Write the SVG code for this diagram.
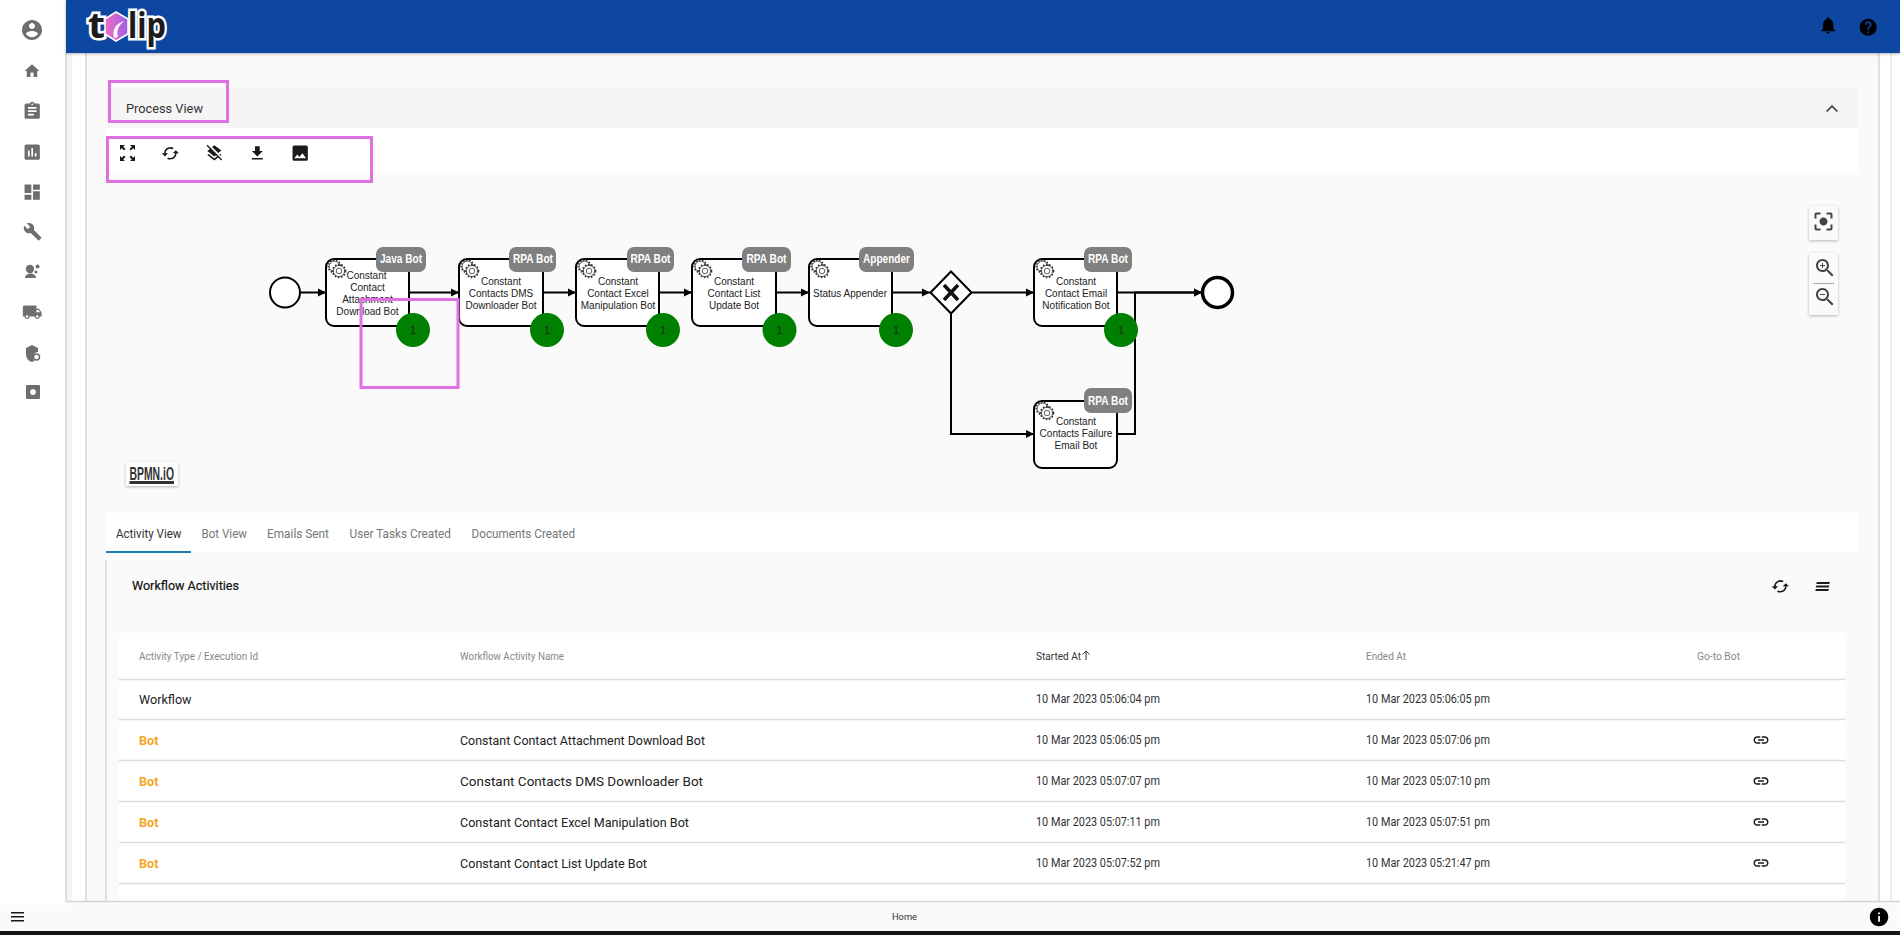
<svg xmlns="http://www.w3.org/2000/svg" xmlns:xlink="http://www.w3.org/1999/xlink" width="1900" height="935" viewBox="0 0 1900 935">
<style>
text{font-family:Roboto,"Liberation Sans",sans-serif}
.pink{fill:none;stroke:#e070e0;stroke-width:3}
.conn{fill:none;stroke:#000;stroke-width:2;marker-end:url(#arrow)}
.line{fill:none;stroke:#000;stroke-width:2}
.task{fill:#fff;stroke:#000;stroke-width:2}
.tl{font-family:"Liberation Sans",Arial,sans-serif;font-size:10px;fill:#222;text-anchor:middle}
.badge{fill:#808080}
.bt{font-family:"Liberation Sans",Arial,sans-serif;font-size:12px;font-weight:700;fill:#fff}
.count{fill:#008000}
.ct{font-family:"Liberation Sans",Arial,sans-serif;font-size:10px;fill:#222;text-anchor:middle}
.side{fill:#6e6e6e}
.ico{fill:#1a1a1a}
.tab{font-size:13px;fill:#777}
.th{font-size:10px;fill:#888}
.td{font-size:12px;fill:#333}
.nm{font-size:13px;fill:#222}
.bot{font-size:13px;font-weight:700;fill:#f5a623}
.rule{stroke:#ddd;stroke-width:1.5}
.vl{stroke:#d4d4d4;stroke-width:1.5}
.btn{fill:#fafafa;filter:url(#sh)}
.zi{fill:#444}
</style>
<defs>
<marker id="arrow" markerUnits="userSpaceOnUse" markerWidth="10" markerHeight="10" refX="9" refY="5" orient="auto"><path d="M1 1L9 5L1 9Z" fill="#000"/></marker>
<filter id="sh" x="-30%" y="-30%" width="160%" height="160%"><feDropShadow dx="0" dy="1" stdDeviation="1.5" flood-color="#000" flood-opacity=".28"/></filter>
<linearGradient id="hex" x1="0" y1="0" x2="1" y2="0"><stop offset="0" stop-color="#f06cc0"/><stop offset="1" stop-color="#a060e8"/></linearGradient>
<g id="gear"><circle cx="-2.5" cy="-2.5" r="5.4" fill="#fff" stroke="#333" stroke-width=".8"/><circle cx="-2.5" cy="-2.5" r="6.2" fill="none" stroke="#333" stroke-width="1.6" stroke-dasharray="1.5 1.5"/><circle cx="2" cy="2" r="5.6" fill="#fff" stroke="#333" stroke-width=".8"/><circle cx="2" cy="2" r="6.5" fill="none" stroke="#333" stroke-width="1.6" stroke-dasharray="1.6 1.6"/><circle cx="2" cy="2" r="2.8" fill="#fff" stroke="#333" stroke-width=".8"/></g>
<path id="i-link" d="M3.9 12c0-1.71 1.39-3.1 3.1-3.1h4V7H7c-2.76 0-5 2.24-5 5s2.24 5 5 5h4v-1.9H7c-1.71 0-3.1-1.39-3.1-3.1zM8 13h8v-2H8v2zm9-6h-4v1.9h4c1.71 0 3.1 1.39 3.1 3.1s-1.39 3.1-3.1 3.1h-4V17h4c2.76 0 5-2.24 5-5s-2.24-5-5-5z"/>
<path id="i-cached" d="M19 8l-4 4h3c0 3.31-2.69 6-6 6-1.01 0-1.97-.25-2.8-.7l-1.46 1.46C8.97 19.54 10.43 20 12 20c4.42 0 8-3.58 8-8h3l-4-4zM6 12c0-3.31 2.69-6 6-6 1.01 0 1.97.25 2.8.7l1.46-1.46C15.03 4.46 13.57 4 12 4c-4.42 0-8 3.58-8 8H1l4 4 4-4H6z"/>
</defs>

<rect width="1900" height="935" fill="#fff"/>
<g id="page">
<rect x="66" y="53" width="6" height="850" fill="#f4f4f4"/>
<rect x="86" y="53" width="1793" height="850" fill="#fafafa"/>
<line class="vl" x1="66" y1="53" x2="66" y2="902"/>
<line class="vl" x1="86" y1="53" x2="86" y2="902"/>
<line class="vl" x1="106" y1="560" x2="106" y2="902"/>
<line class="vl" x1="1879" y1="53" x2="1879" y2="902"/>
<line class="vl" x1="1891" y1="53" x2="1891" y2="902" stroke-opacity=".5"/>
</g>

<g id="header">
<rect x="66" y="0" width="1834" height="53" fill="#0d47a1" filter="url(#sh)"/>
<text x="88" y="38" font-size="35" font-weight="700" fill="#1c1c1c" stroke="#fff" stroke-width="5" paint-order="stroke" style="font-family:'Noto Sans',sans-serif" textLength="17" lengthAdjust="spacingAndGlyphs">t</text>
<path d="M116 12L128 19V34L116 41L105 34V19Z" fill="url(#hex)" stroke="#fff" stroke-width="1.5"/>
<path d="M114 38C112 30 115 24 124 21C118 26 116 31 118 37Z" fill="#fff"/>
<text x="128" y="38" font-size="35" font-weight="700" fill="#1c1c1c" stroke="#fff" stroke-width="5" paint-order="stroke" style="font-family:'Noto Sans',sans-serif" textLength="38" lengthAdjust="spacingAndGlyphs">lip</text>
<path transform="translate(1818 15) scale(.85)" fill="#000" d="M12 22c1.1 0 2-.9 2-2h-4c0 1.1.89 2 2 2zm6-6v-5c0-3.07-1.64-5.64-4.5-6.32V4c0-.83-.67-1.5-1.5-1.5s-1.5.67-1.5 1.5v.68C7.63 5.36 6 7.92 6 11v5l-2 2v1h16v-1l-2-2z"/>
<path transform="translate(1858 17) scale(.85)" fill="#000" d="M12 2C6.48 2 2 6.48 2 12s4.48 10 10 10 10-4.48 10-10S17.52 2 12 2zm1 17h-2v-2h2v2zm2.07-7.75l-.9.92C13.45 12.9 13 13.5 13 15h-2v-.5c0-1.1.45-2.1 1.17-2.83l1.24-1.26c.37-.36.59-.86.59-1.41 0-1.1-.9-2-2-2s-2 .9-2 2H8c0-2.21 1.79-4 4-4s4 1.79 4 4c0 .88-.36 1.68-.93 2.25z"/>
</g>

<g id="sidebar">
<path class="side" transform="translate(20 18)" d="M12 2C6.48 2 2 6.48 2 12s4.48 10 10 10 10-4.48 10-10S17.52 2 12 2zm0 3c1.66 0 3 1.34 3 3s-1.34 3-3 3-3-1.34-3-3 1.34-3 3-3zm0 14.2c-2.5 0-4.71-1.28-6-3.22.03-1.99 4-3.08 6-3.08 1.99 0 5.97 1.09 6 3.08-1.29 1.94-3.5 3.22-6 3.22z"/>
<path class="side" transform="translate(23 62) scale(.75)" d="M10 20v-6h4v6h5v-8h3L12 3 2 12h3v8z"/>
<path class="side" transform="translate(22 101) scale(.85)" d="M19 3h-4.18C14.4 1.84 13.3 1 12 1c-1.3 0-2.4.84-2.82 2H5c-1.1 0-2 .9-2 2v14c0 1.1.9 2 2 2h14c1.1 0 2-.9 2-2V5c0-1.1-.9-2-2-2zm-7 0c.55 0 1 .45 1 1s-.45 1-1 1-1-.45-1-1 .45-1 1-1zm2 14H7v-2h7v2zm3-4H7v-2h10v2zm0-4H7V7h10v2z"/>
<path class="side" transform="translate(22 142) scale(.85)" d="M19 3H5c-1.1 0-2 .9-2 2v14c0 1.1.9 2 2 2h14c1.1 0 2-.9 2-2V5c0-1.1-.9-2-2-2zM9 17H7v-7h2v7zm4 0h-2V7h2v10zm4 0h-2v-4h2v4z"/>
<path class="side" transform="translate(22 182) scale(.85)" d="M3 13h8V3H3v10zm0 8h8v-6H3v6zm10 0h8V11h-8v10zm0-18v6h8V3h-8z"/>
<path class="side" transform="translate(23 222) scale(.8)" d="M22.7 19l-9.1-9.1c.9-2.3.4-5-1.5-6.9-2-2-5-2.4-7.4-1.3L9 6 6 9 1.6 4.7C.4 7.1.9 10.1 2.9 12.1c1.9 1.9 4.6 2.4 6.9 1.5l9.1 9.1c.4.4 1 .4 1.4 0l2.3-2.3c.5-.4.5-1.1.1-1.4z"/>
<g class="side"><circle cx="30" cy="269" r="4.2"/><path d="M25 278c0-3 3-4.5 5.5-4.5s5.5 1.5 5.5 4.5H25z"/><circle cx="37.500" cy="266.500" r="2"/><circle cx="36" cy="272" r="1.500"/></g>
<path class="side" transform="translate(22 302) scale(.85)" d="M20 8h-3V4H3c-1.1 0-2 .9-2 2v11h2c0 1.66 1.34 3 3 3s3-1.34 3-3h6c0 1.66 1.34 3 3 3s3-1.34 3-3h2v-5l-3-4zM6 18.500c-.83 0-1.500-.67-1.500-1.500s.67-1.500 1.500-1.500 1.500.67 1.500 1.500-.67 1.500-1.500 1.500zm13.500-9l1.960 2.500H17V9.500h2.500zm-1.500 9c-.83 0-1.500-.67-1.500-1.500s.67-1.500 1.500-1.500 1.500.67 1.500 1.500-.67 1.500-1.500 1.500z"/>
<g class="side"><path d="M32 345l6 3v4c-2.500 0-5 2.500-5 5 0 1.500.5 3 1.500 3.800-.8.500-1.600.900-2.500 1.200-4-1-6-4-6-8v-6z"/><circle cx="36.500" cy="357" r="3" fill="#fff" stroke="#6e6e6e" stroke-width="1.500"/></g>
<path class="side" fill-rule="evenodd" d="M27 385h12a1 1 0 0 1 1 1v12a1 1 0 0 1-1 1H27a1 1 0 0 1-1-1v-12a1 1 0 0 1 1-1zM33 389a3 3 0 1 0 .01 0z"/>
</g>

<g id="panel">
<rect x="106" y="88" width="1752" height="40" fill="#f5f5f5"/>
<rect x="106" y="128" width="1752" height="45" fill="#fff"/>
<text x="126" y="113" font-size="13" fill="#333" textLength="77" lengthAdjust="spacingAndGlyphs">Process View</text>
<path fill="#333" transform="translate(1820 97)" d="M12 8l-6 6 1.100 1.100L12 10.200l4.900 4.900L18 14z"/>
<g id="toolbar">
<path class="ico" d="M120 145h5l-1.800 1.800 2.300 2.300-1.400 1.400-2.300-2.300L120 150zM135 145h-5l1.800 1.800-2.300 2.300 1.400 1.400 2.300-2.300L135 150zM120 161h5l-1.800-1.800 2.300-2.300-1.400-1.400-2.300 2.300L120 156zM135 161h-5l1.800-1.800-2.300-2.300 1.400-1.400 2.300 2.300L135 156z"/>
<use href="#i-cached" class="ico" transform="translate(161 144) scale(.78)"/>
<path class="ico" transform="translate(205 144) scale(.78)" d="M19.810 14.990l1.190-.92-1.430-1.430-1.190.92 1.430 1.430zm-.45-5.270L21 8.460 12 1.460 9.090 3.720l7.880 7.880 2.390-1.880zM3.270 1L2 2.270l4.220 4.220L3 9l1.630 1.270L12 16l2.100-1.630 1.430 1.430L12 18.540l-7.370-5.730L3 14.070l9 7 4.950-3.850L20.730 21 22 19.730 3.270 1z"/>
<path class="ico" transform="translate(248 144) scale(.78)" d="M19 9h-4V3H9v6H5l7 7 7-7zM5 18v2h14v-2H5z"/>
<path class="ico" transform="translate(290 143) scale(.85)" d="M21 19V5c0-1.100-.9-2-2-2H5c-1.100 0-2 .9-2 2v14c0 1.100.9 2 2 2h14c1.100 0 2-.9 2-2zM8.500 13.500l2.500 3.010L14.500 12l4.500 6H5l3.500-4.500z"/>
</g>
</g>

<g id="connectors">
<path class="conn" d="M300 292.500H326"/>
<path class="conn" d="M409 292.500H459"/>
<path class="conn" d="M543 292.500H576"/>
<path class="conn" d="M659 292.500H692"/>
<path class="conn" d="M776 292.500H809"/>
<path class="conn" d="M892 292.500H930"/>
<path class="conn" d="M971.500 292.500H1034"/>
<path class="conn" d="M951 313V434H1034"/>
<path class="conn" d="M1117 292.500H1202"/>
<path class="conn" d="M1117 434H1135V292.500H1202"/>
</g>

<g id="start"><circle cx="285" cy="292.500" r="15" fill="#fff" stroke="#000" stroke-width="2"/></g>

<g id="task1"><rect class="task" x="326" y="259" width="83" height="67" rx="8"/><use href="#gear" x="337" y="269"/>
<text class="tl" x="366.500" y="279">Constant</text><text class="tl" x="367.500" y="291">Contact</text><text class="tl" x="367.500" y="303">Attachment</text><text class="tl" x="367.500" y="315">Download Bot</text>
<rect class="badge" x="376" y="247" width="50" height="25" rx="7"/><text class="bt" x="380" y="263" textLength="42" lengthAdjust="spacingAndGlyphs">Java Bot</text>
<circle class="count" cx="413" cy="330" r="17"/><text class="ct" x="413" y="334">1</text></g>

<g id="task2"><rect class="task" x="459" y="259" width="84" height="67" rx="8"/><use href="#gear" x="470" y="269"/>
<text class="tl" x="501" y="285">Constant</text><text class="tl" x="501" y="297">Contacts DMS</text><text class="tl" x="501" y="309">Downloader Bot</text>
<rect class="badge" x="509" y="247" width="47" height="25" rx="7"/><text class="bt" x="513" y="263" textLength="40" lengthAdjust="spacingAndGlyphs">RPA Bot</text>
<circle class="count" cx="547" cy="330" r="17"/><text class="ct" x="547" y="334">1</text></g>

<g id="task3"><rect class="task" x="576" y="259" width="83" height="67" rx="8"/><use href="#gear" x="587" y="269"/>
<text class="tl" x="618" y="285">Constant</text><text class="tl" x="618" y="297">Contact Excel</text><text class="tl" x="618" y="309">Manipulation Bot</text>
<rect class="badge" x="627" y="247" width="47" height="25" rx="7"/><text class="bt" x="630.500" y="263" textLength="40" lengthAdjust="spacingAndGlyphs">RPA Bot</text>
<circle class="count" cx="663" cy="330" r="17"/><text class="ct" x="663" y="334">1</text></g>

<g id="task4"><rect class="task" x="692" y="259" width="84" height="67" rx="8"/><use href="#gear" x="703" y="269"/>
<text class="tl" x="734" y="285">Constant</text><text class="tl" x="734" y="297">Contact List</text><text class="tl" x="734" y="309">Update Bot</text>
<rect class="badge" x="742" y="247" width="49" height="25" rx="7"/><text class="bt" x="746.500" y="263" textLength="40" lengthAdjust="spacingAndGlyphs">RPA Bot</text>
<circle class="count" cx="779.500" cy="330" r="17"/><text class="ct" x="779.500" y="334">1</text></g>

<g id="task5"><rect class="task" x="809" y="259" width="83" height="67" rx="8"/><use href="#gear" x="820" y="269"/>
<text class="tl" x="850" y="297">Status Appender</text>
<rect class="badge" x="859" y="247" width="55" height="25" rx="7"/><text class="bt" x="863" y="263" textLength="47" lengthAdjust="spacingAndGlyphs">Appender</text>
<circle class="count" cx="896" cy="330" r="17"/><text class="ct" x="896" y="334">1</text></g>

<g id="gateway"><path d="M951 271.500L971.500 292.500L951 313.500L930.500 292.500Z" fill="#fff" stroke="#000" stroke-width="2"/><path d="M944 285L958 300M958 285L944 300" fill="none" stroke="#111" stroke-width="3.600"/></g>

<g id="task6"><rect class="task" x="1034" y="259" width="83" height="67" rx="8"/><use href="#gear" x="1045" y="269"/>
<text class="tl" x="1076" y="285">Constant</text><text class="tl" x="1076" y="297">Contact Email</text><text class="tl" x="1076" y="309">Notification Bot</text>
<rect class="badge" x="1084" y="247" width="48" height="25" rx="7"/><text class="bt" x="1088" y="263" textLength="40" lengthAdjust="spacingAndGlyphs">RPA Bot</text>
<circle class="count" cx="1121" cy="330" r="17"/><text class="ct" x="1121" y="334">1</text></g>

<g id="task7"><rect class="task" x="1034" y="401" width="83" height="67" rx="8"/><use href="#gear" x="1045" y="411"/>
<text class="tl" x="1076" y="425">Constant</text><text class="tl" x="1076" y="437">Contacts Failure</text><text class="tl" x="1076" y="449">Email Bot</text>
<rect class="badge" x="1084" y="388" width="48" height="25" rx="7"/><text class="bt" x="1088" y="405" textLength="40" lengthAdjust="spacingAndGlyphs">RPA Bot</text></g>

<g id="end"><circle cx="1217.500" cy="292.500" r="15" fill="#fff" stroke="#000" stroke-width="3.500"/></g>

<g id="highlights">
<rect class="pink" x="109.500" y="81.500" width="118" height="40"/>
<rect class="pink" x="107.500" y="137.500" width="264" height="44"/>
<rect class="pink" x="361" y="299.500" width="97" height="88"/>
</g>

<g id="canvas-controls">
<rect class="btn" x="1809" y="206" width="29" height="34" rx="1"/>
<path class="zi" transform="translate(1811.500 209.500)" d="M12 8c-2.210 0-4 1.790-4 4s1.790 4 4 4 4-1.790 4-4-1.790-4-4-4zm-7 7H3v4c0 1.100.9 2 2 2h4v-2H5v-4zM5 5h4V3H5c-1.100 0-2 .9-2 2v4h2V5zm14-2h-4v2h4v4h2V5c0-1.100-.9-2-2-2zm0 16h-4v2h4c1.100 0 2-.9 2-2v-4h-2v4z"/>
<rect class="btn" x="1809" y="253" width="29" height="62" rx="1"/>
<line x1="1813" y1="283.500" x2="1834" y2="283.500" stroke="#aaa"/>
<path class="zi" transform="translate(1813 256)" d="M15.500 14h-.79l-.28-.27C15.410 12.590 16 11.110 16 9.500 16 5.910 13.090 3 9.500 3S3 5.910 3 9.500 5.910 16 9.500 16c1.610 0 3.090-.59 4.230-1.570l.27.28v.79l5 4.990L20.490 19l-4.990-5zm-6 0C7.010 14 5 11.990 5 9.500S7.010 5 9.500 5 14 7.010 14 9.500 11.990 14 9.500 14zM12 10h-2v2H9v-2H7V9h2V7h1v2h2v1z"/>
<path class="zi" transform="translate(1813 285)" d="M15.500 14h-.79l-.28-.27C15.410 12.590 16 11.110 16 9.500 16 5.910 13.090 3 9.500 3S3 5.910 3 9.500 5.910 16 9.500 16c1.610 0 3.090-.59 4.230-1.570l.27.28v.79l5 4.990L20.490 19l-4.990-5zm-6 0C7.010 14 5 11.990 5 9.500S7.010 5 9.500 5 14 7.010 14 9.500 11.990 14 9.500 14zM7 9h5v1H7z"/>
<g id="bpmn-logo"><rect x="126" y="462" width="52" height="24" fill="#fff" filter="url(#sh)"/>
<text x="129.500" y="480" font-size="18" font-weight="700" fill="#333" style="font-family:'Liberation Sans',sans-serif" textLength="44.500" lengthAdjust="spacingAndGlyphs">BPMN.iO</text>
<rect x="129.500" y="481" width="44.500" height="3" fill="#333"/></g>
</g>

<g id="tabs">
<rect x="106" y="513" width="1752" height="39" fill="#fff"/>
<text class="tab" style="fill:#333" x="116" y="538" textLength="65.500" lengthAdjust="spacingAndGlyphs">Activity View</text>
<text class="tab" x="201.500" y="538" textLength="45.500" lengthAdjust="spacingAndGlyphs">Bot View</text>
<text class="tab" x="267" y="538" textLength="62" lengthAdjust="spacingAndGlyphs">Emails Sent</text>
<text class="tab" x="349.500" y="538" textLength="101.500" lengthAdjust="spacingAndGlyphs">User Tasks Created</text>
<text class="tab" x="471.500" y="538" textLength="103.500" lengthAdjust="spacingAndGlyphs">Documents Created</text>
<rect x="106" y="551" width="85" height="2" fill="#1a7fa8"/>
</g>

<g id="activities">
<text x="132" y="590" font-size="13" font-weight="400" fill="#111" stroke="#111" stroke-width=".2" textLength="107" lengthAdjust="spacingAndGlyphs">Workflow Activities</text>
<use href="#i-cached" class="ico" transform="translate(1771 577) scale(.78)"/>
<path d="M1817 582h13l-.8 2h-13zM1816.500 585.500h13l-.8 2h-13zM1816 589h13l-.8 2h-13z" class="ico"/>
<rect x="119" y="633" width="1726" height="268" fill="#fff"/>
<text class="th" x="139" y="660" textLength="119" lengthAdjust="spacingAndGlyphs">Activity Type / Execution Id</text>
<text class="th" x="460" y="660" textLength="104" lengthAdjust="spacingAndGlyphs">Workflow Activity Name</text>
<text class="th" style="fill:#333" x="1036" y="660" textLength="45" lengthAdjust="spacingAndGlyphs">Started At</text>
<path d="M1086 660V651M1082.500 654.500L1086 651L1089.500 654.500" fill="none" stroke="#333" stroke-width="1"/>
<text class="th" x="1366" y="660" textLength="40" lengthAdjust="spacingAndGlyphs">Ended At</text>
<text class="th" x="1697" y="660" textLength="43" lengthAdjust="spacingAndGlyphs">Go-to Bot</text>
<line class="rule" x1="119" y1="679.500" x2="1845" y2="679.500"/>
<line class="rule" x1="119" y1="719.500" x2="1845" y2="719.500"/>
<line class="rule" x1="119" y1="760.500" x2="1845" y2="760.500"/>
<line class="rule" x1="119" y1="801.500" x2="1845" y2="801.500"/>
<line class="rule" x1="119" y1="842.500" x2="1845" y2="842.500"/>
<line class="rule" x1="119" y1="883.500" x2="1845" y2="883.500"/>

<text class="nm" x="139" y="704" textLength="52.500" lengthAdjust="spacingAndGlyphs">Workflow</text>
<text class="td" x="1036" y="703" textLength="124" lengthAdjust="spacingAndGlyphs">10 Mar 2023 05:06:04 pm</text>
<text class="td" x="1366" y="703" textLength="124" lengthAdjust="spacingAndGlyphs">10 Mar 2023 05:06:05 pm</text>

<text class="bot" x="139" y="745" textLength="19.500" lengthAdjust="spacingAndGlyphs">Bot</text>
<text class="nm" x="460" y="745" textLength="245" lengthAdjust="spacingAndGlyphs">Constant Contact Attachment Download Bot</text>
<text class="td" x="1036" y="744" textLength="124" lengthAdjust="spacingAndGlyphs">10 Mar 2023 05:06:05 pm</text>
<text class="td" x="1366" y="744" textLength="124" lengthAdjust="spacingAndGlyphs">10 Mar 2023 05:07:06 pm</text>
<use href="#i-link" class="ico" transform="translate(1752 731) scale(.75)"/>

<text class="bot" x="139" y="786" textLength="19.500" lengthAdjust="spacingAndGlyphs">Bot</text>
<text class="nm" x="460" y="786" textLength="243" lengthAdjust="spacingAndGlyphs">Constant Contacts DMS Downloader Bot</text>
<text class="td" x="1036" y="785" textLength="124" lengthAdjust="spacingAndGlyphs">10 Mar 2023 05:07:07 pm</text>
<text class="td" x="1366" y="785" textLength="124" lengthAdjust="spacingAndGlyphs">10 Mar 2023 05:07:10 pm</text>
<use href="#i-link" class="ico" transform="translate(1752 772) scale(.75)"/>

<text class="bot" x="139" y="827" textLength="19.500" lengthAdjust="spacingAndGlyphs">Bot</text>
<text class="nm" x="460" y="827" textLength="229" lengthAdjust="spacingAndGlyphs">Constant Contact Excel Manipulation Bot</text>
<text class="td" x="1036" y="826" textLength="124" lengthAdjust="spacingAndGlyphs">10 Mar 2023 05:07:11 pm</text>
<text class="td" x="1366" y="826" textLength="124" lengthAdjust="spacingAndGlyphs">10 Mar 2023 05:07:51 pm</text>
<use href="#i-link" class="ico" transform="translate(1752 813) scale(.75)"/>

<text class="bot" x="139" y="868" textLength="19.500" lengthAdjust="spacingAndGlyphs">Bot</text>
<text class="nm" x="460" y="868" textLength="187" lengthAdjust="spacingAndGlyphs">Constant Contact List Update Bot</text>
<text class="td" x="1036" y="867" textLength="124" lengthAdjust="spacingAndGlyphs">10 Mar 2023 05:07:52 pm</text>
<text class="td" x="1366" y="867" textLength="124" lengthAdjust="spacingAndGlyphs">10 Mar 2023 05:21:47 pm</text>
<use href="#i-link" class="ico" transform="translate(1752 854) scale(.75)"/>
</g>

<g id="footer">
<rect x="0" y="905" width="66" height="26" fill="#fafafa"/>
<rect x="66" y="902" width="1834" height="29" fill="#fafafa"/>
<line x1="66" y1="901.500" x2="1900" y2="901.500" stroke="#d4d4d4" stroke-width="1.500"/>
<rect x="0" y="931" width="1900" height="4" fill="#151515"/>
<path class="ico" d="M11 912h13v1.600H11zM11 916h13v1.600H11zM11 920h13v1.600H11z"/>
<text x="892" y="920" font-size="9.500" fill="#333" textLength="25" lengthAdjust="spacingAndGlyphs">Home</text>
<path fill="#000" transform="translate(1868 906) scale(.92)" d="M12 2C6.480 2 2 6.480 2 12s4.480 10 10 10 10-4.480 10-10S17.520 2 12 2zm1 15h-2v-6h2v6zm0-8h-2V7h2v2z"/>
</g>
</svg>
